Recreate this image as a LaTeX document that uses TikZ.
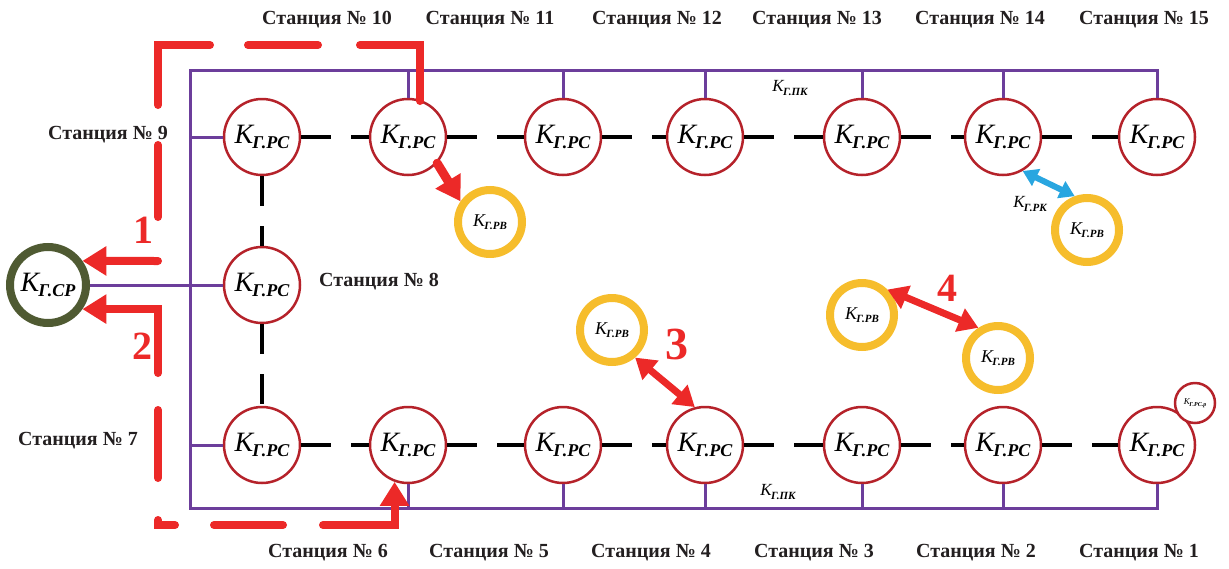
\documentclass[tikz,border=0pt]{standalone}
\usepackage{fontspec}
\setmainfont{Liberation Serif}
\usetikzlibrary{arrows.meta}

\definecolor{ringred}{RGB}{181,34,42}
\definecolor{busviolet}{RGB}{108,62,155}
\definecolor{alarmred}{RGB}{236,41,40}
\definecolor{ringyellow}{RGB}{246,189,44}
\definecolor{ringolive}{RGB}{79,90,50}
\definecolor{linkblue}{RGB}{41,166,224}
\definecolor{labelgray}{RGB}{35,31,32}

% K with a bold italic index: size of K, size of index, index
\newcommand{\coef}[3]{{\fontsize{#1}{#1}\selectfont\itshape K\kern-.04em\raisebox{-.2em}{\fontsize{#2}{#2}\selectfont\bfseries #3}}}

\begin{document}
\begin{tikzpicture}
  [x=1pt,y=-1pt,
   rs/.style={circle,draw=ringred,line width=2.5pt,fill=white,minimum size=76pt,inner sep=0pt},
   rv/.style={circle,draw=ringyellow,line width=8pt,fill=white,minimum size=64pt,inner sep=0pt},
   cp/.style={circle,draw=ringolive,line width=8pt,fill=white,minimum size=76pt,inner sep=0pt},
   stlabel/.style={font=\fontsize{20}{24}\selectfont\bfseries,text=labelgray,inner sep=0pt},
   num/.style={font=\fontsize{40}{40}\selectfont\bfseries,text=alarmred,inner sep=0pt},
   bus/.style={draw=busviolet,line width=3pt},
   link/.style={draw=black,line width=4pt,dash pattern=on 30pt off 20pt},
   redline/.style={draw=alarmred,line width=8pt,line cap=round},
   redarrow/.style={redline,arrows={-Triangle[length=24pt,width=28pt]}},
   redboth/.style={draw=alarmred,line width=7pt,arrows={Triangle[length=20pt,width=24pt]-Triangle[length=20pt,width=24pt]}},
   blueboth/.style={draw=linkblue,line width=6pt,arrows={Triangle[length=15pt,width=18pt]-Triangle[length=15pt,width=18pt]}}]

  \useasboundingbox (0,0) rectangle (1229,568);

  % stations
  \node[rs] (s9)  at (262,137)  {\coef{28}{18}{Г.РС}};
  \node[rs] (s10) at (408,137)  {\coef{28}{18}{Г.РС}};
  \node[rs] (s11) at (563,137)  {\coef{28}{18}{Г.РС}};
  \node[rs] (s12) at (705,137)  {\coef{28}{18}{Г.РС}};
  \node[rs] (s13) at (862,137)  {\coef{28}{18}{Г.РС}};
  \node[rs] (s14) at (1003,137) {\coef{28}{18}{Г.РС}};
  \node[rs] (s15) at (1157,137) {\coef{28}{18}{Г.РС}};
  \node[rs] (s8)  at (262,285)  {\coef{28}{18}{Г.РС}};
  \node[rs] (s7)  at (262,445)  {\coef{28}{18}{Г.РС}};
  \node[rs] (s6)  at (408,445)  {\coef{28}{18}{Г.РС}};
  \node[rs] (s5)  at (563,445)  {\coef{28}{18}{Г.РС}};
  \node[rs] (s4)  at (705,445)  {\coef{28}{18}{Г.РС}};
  \node[rs] (s3)  at (862,445)  {\coef{28}{18}{Г.РС}};
  \node[rs] (s2)  at (1003,445) {\coef{28}{18}{Г.РС}};
  \node[rs] (s1)  at (1157,445) {\coef{28}{18}{Г.РС}};
  \node[rs,minimum size=40pt] (s1r) at (1195,403) {\coef{9}{6}{Г.РС.р}};

  \node[cp] (kcp) at (48,285) {\coef{28}{18}{Г.СР}};

  \node[rv] (r1) at (490,222)  {\coef{18}{11}{Г.РВ}};
  \node[rv] (rk) at (1087,230) {\coef{18}{11}{Г.РВ}};
  \node[rv] (r3) at (612,330)  {\coef{18}{11}{Г.РВ}};
  \node[rv] (r4) at (862,315)  {\coef{18}{11}{Г.РВ}};
  \node[rv] (r5) at (998,358)  {\coef{18}{11}{Г.РВ}};

  % station names
  \foreach \i/\x in {10/327,11/490,12/657,13/817,14/980,15/1144}
    \node[stlabel] (l\i) at (\x,20) {Станция № \i};
  \foreach \i/\x in {6/328,5/489,4/651,3/814,2/976,1/1139}
    \node[stlabel] (l\i) at (\x,553) {Станция № \i};
  \node[stlabel] (l9) at (108,135) {Станция № 9};
  \node[stlabel] (l8) at (379,282) {Станция № 8};
  \node[stlabel] (l7) at (78,441)  {Станция № 7};

  \node (pktop) at (790,88)  {\coef{17}{11}{Г.ПК}};
  \node (pkbot) at (778,492) {\coef{17}{11}{Г.ПК}};
  \node (rklab) at (1030,204) {\coef{17}{11}{Г.РК}};

  % bus
  \coordinate (tl) at (190,70);
  \coordinate (bl) at (190,508);
  \draw[bus] (s15.north) |- (tl) -- (bl) -| (s1.south);
  \foreach \n in {s10,s11,s12,s13,s14}
    \draw[bus] (\n.north) -- (\n.north |- tl);
  \foreach \n in {s6,s5,s4,s3,s2}
    \draw[bus] (\n.south) -- (\n.south |- bl);
  \draw[bus] (s9) -- (s9 -| tl);
  \draw[bus] (s7) -- (s7 -| tl);
  \draw[bus] (kcp) -- (s8);

  % links between stations
  \foreach \from/\to in {s9/s10,s10/s11,s11/s12,s12/s13,s13/s14,s14/s15,
                         s9/s8,s8/s7,
                         s7/s6,s6/s5,s5/s4,s4/s3,s3/s2,s2/s1}
    \draw[link] (\from) -- (\to);

  % outline of the zone
  \draw[redline] (420,101) |- (360,45);
  \draw[redline] (318,45) -- (248,45);
  \draw[redline] (210,45) -| (158,105);
  \draw[redline] (158,145) -- (158,217);
  \draw[redline] (158,410) -- (158,478);
  \draw[redline] (158,520) |- (175,525);
  \draw[redline] (214,525) -- (283,525);

  \coordinate (a1) at (158,261);
  \coordinate (a2) at (158,373);
  \coordinate (a6) at (323,525);
  \draw[redarrow] (a1) -- (kcp.35);
  \draw[redarrow] (a2) |- (kcp.-35);
  \draw[redarrow] (a6) -| (s6.250);

  \draw[redarrow,line width=9pt] (s10.-42) -- (r1.145);
  \draw[redboth] (r3.-50) -- (s4.105);
  \draw[redboth] (r4.45) -- (r5.123);
  \draw[blueboth] (s14.-60) -- (rk.110);

  \node[num] (n1) at (143,230) {1};
  \node[num] (n2) at (142,346) {2};
  \node[num,font=\fontsize{46}{46}\selectfont\bfseries] (n3) at (677,344) {3};
  \node[num] (n4) at (947,288) {4};
\end{tikzpicture}
\end{document}
